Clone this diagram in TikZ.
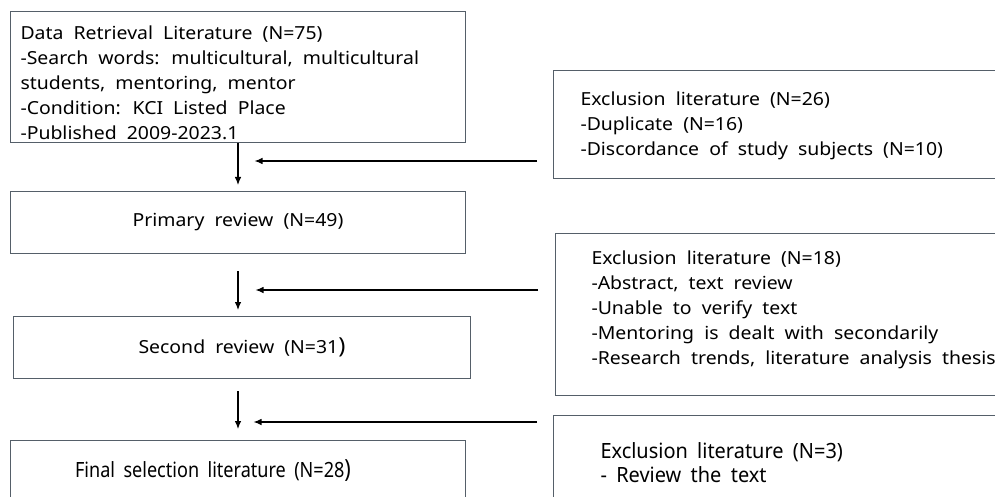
\documentclass[tikz,border=0pt]{standalone}
\usepackage{fontspec}
\setmainfont{Noto Sans}[FakeStretch=1.08, WordSpace=2]
\newfontfamily\narrowfont{Noto Sans}[FakeStretch=0.86, WordSpace=1.8]
\newfontfamily\condfont{Noto Sans}[FakeStretch=0.95, WordSpace=1.8]
\usetikzlibrary{positioning,arrows.meta}
\definecolor{boxline}{RGB}{85,95,105}

\begin{document}
\begin{tikzpicture}[x=1pt, y=-1pt, line width=1pt,
    box/.style={rectangle, draw=boxline, anchor=north west, inner sep=0pt,
      font=\fontsize{18}{25}\selectfont},
    txt/.style={anchor=west, align=left, inner sep=0pt,
      font=\fontsize{18}{25}\selectfont},
    flow/.style={-{Latex[length=8pt,width=6.5pt]}, line width=1.1pt}]
  \clip (0,0) rectangle (995,497);
  % left column
  \node[box, minimum width=455, minimum height=131] (data) at (10,11) {};
  \node[txt] (data-txt) at (20,83) {Data Retrieval Literature (N=75)\\
    -Search words: multicultural, multicultural\\
    students, mentoring, mentor\\
    -Condition: KCI Listed Place\\
    -Published 2009-2023.1};
  \node[box, minimum width=455, minimum height=62] (primary) at (10,191) {Primary review (N=49)};
  \node[box, minimum width=457, minimum height=62] (second) at (13,316) {Second review (N=31{\fontsize{22}{22}\selectfont)}};
  \node[box, minimum width=455, minimum height=100] (final) at (10,440) {};
  \node[txt, anchor=center, font=\narrowfont\fontsize{21}{25}\selectfont] (final-txt) at (213,471)
    {Final selection literature (N=28{\fontsize{25}{25}\selectfont)}};
  % right column
  \node[box, minimum width=500, minimum height=108] (excl1) at (553,70) {};
  \node[txt] (excl1-txt) at (580,126) {Exclusion literature (N=26)\\
    -Duplicate (N=16)\\
    -Discordance of study subjects (N=10)};
  \node[box, minimum width=500, minimum height=162] (excl2) at (555,233) {};
  \node[txt] (excl2-txt) at (591,310) {Exclusion literature (N=18)\\
    -Abstract, text review\\
    -Unable to verify text\\
    -Mentoring is dealt with secondarily\\
    -Research trends, literature analysis thesis};
  \node[box, minimum width=500, minimum height=120] (excl3) at (553,415) {};
  \node[txt, font=\condfont\fontsize{21}{24}\selectfont] (excl3-txt) at (600,463)
    {Exclusion literature (N=3)\\- Review the text};
  % where the exclusions join the flow
  \coordinate (j1) at (237.5,161);
  \coordinate (j2) at (237.5,290);
  \coordinate (j3) at (237.5,422);
  % connectors
  \draw[flow, shorten >=6pt] (data) -- (primary);
  \draw[flow, shorten <=17pt, shorten >=6pt] (primary.south) -- (primary.south |- second.north);
  \draw[flow, shorten <=12pt, shorten >=11pt] (second.south -| primary.south) -- (final.north);
  \draw[flow, shorten <=16pt, shorten >=17pt] (excl1.west |- j1) -- (j1);
  \draw[flow, shorten <=17pt, shorten >=18pt] (excl2.west |- j2) -- (j2);
  \draw[flow, shorten <=16pt, shorten >=16pt] (excl3.west |- j3) -- (j3);
\end{tikzpicture}
\end{document}
